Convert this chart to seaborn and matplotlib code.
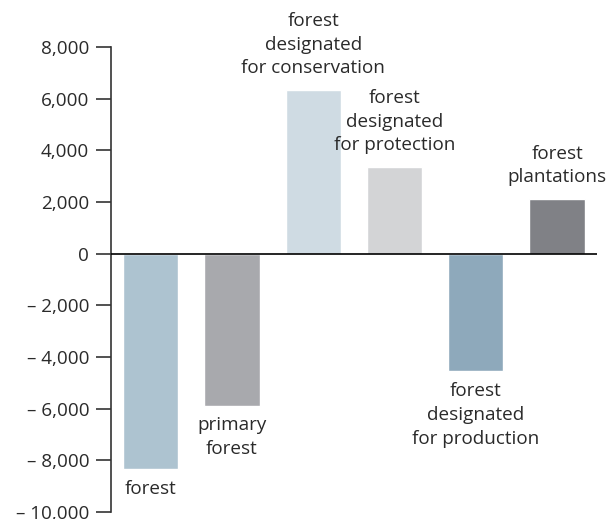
import pandas as pd
import seaborn as sb
import matplotlib.pyplot as plt

categories = ["forest", "primary\nforest", "forest\ndesignated\nfor conservation",
              "forest\ndesignated\nfor protection", "forest\ndesignated\nfor production",
              "forest\nplantations"]
values = [-8350, -5880, 6340, 3360, -4560, 2130]
colors = ["#adc3d0", "#a8a9ad", "#cfdbe3", "#d3d4d6", "#8ea9bb", "#808186"]
yticks = [8000, 6000, 4000, 2000, 0, -2000, -4000, -6000, -8000, -10000]

df = pd.DataFrame({"cat": categories, "val": values})

sb.set_style("white")
plt.rcParams['font.family'] = ['Open Sans', 'DejaVu Sans']

fig = plt.figure(figsize=(6.16, 5.19), dpi=100)
ax = fig.add_axes([0.180, 0.0135, 0.789, 0.896])

sb.barplot(data=df, x="cat", y="val", hue="cat", palette=colors, legend=False,
           width=0.68, saturation=1, ax=ax)

ax.axhline(0, color="black", lw=1.2, zorder=3)
ax.set_xlim(-0.49, 5.49)
ax.set_ylim(-10000, 8000)
ax.set_yticks(yticks)
ax.set_yticklabels([f"{v:,}" if v >= 0 else f"– {abs(v):,}" for v in yticks])
ax.tick_params(axis="y", direction="out", length=11, width=1.2, color="#333333",
               labelsize=13.6, labelcolor="#2a2a2a", pad=4.5, left=True)
ax.set_xticks([])
ax.set_xlabel("")
ax.set_ylabel("")
for s in ["top", "right", "bottom"]:
    ax.spines[s].set_visible(False)
ax.spines["left"].set_color("#333333")
ax.spines["left"].set_linewidth(1.2)

# labels above positive bars, below negative ones
for i, (c, v) in enumerate(zip(categories, values)):
    if v >= 0:
        ax.text(i, v + 480, c, ha="center", va="bottom", fontsize=13.6,
                color="#2a2a2a", linespacing=1.4, clip_on=False)
    else:
        ax.text(i, v - 420, c, ha="center", va="top", fontsize=13.6,
                color="#2a2a2a", linespacing=1.4, clip_on=False)

plt.savefig("out.png", dpi=100)
